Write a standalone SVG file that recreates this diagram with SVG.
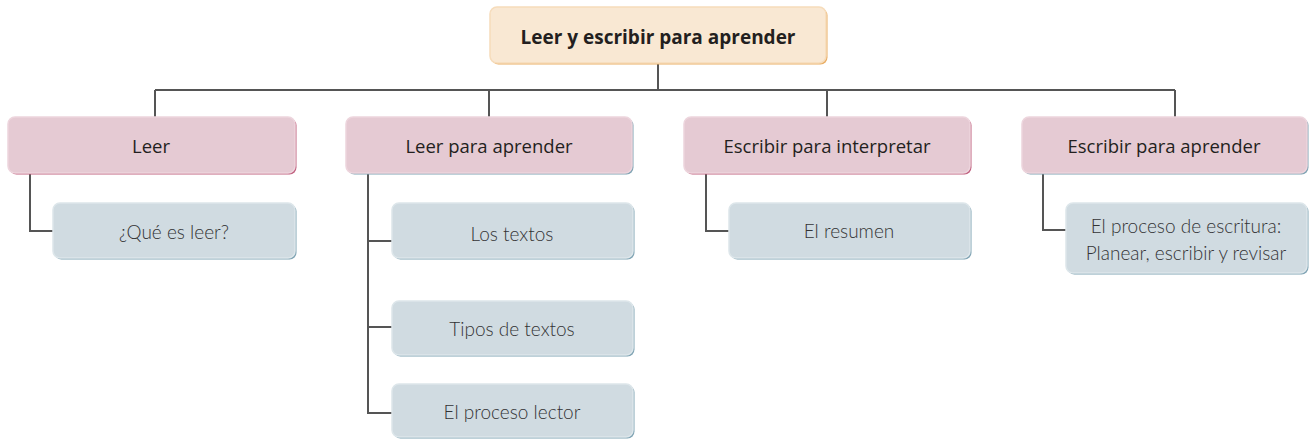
<svg xmlns="http://www.w3.org/2000/svg" width="1309" height="441" viewBox="0 0 1309 441">
<style>
.t{font-family:"Open Sans","Liberation Sans",sans-serif;text-anchor:middle;fill:#231f20}
.title{font-size:19px;font-weight:700}
.cat{font-size:18.5px;font-weight:400}
.sub{font-family:"Lato","Open Sans",sans-serif;font-size:19px;font-weight:300;fill:#333335}
.conn{stroke:#555;stroke-width:2;fill:none}
</style>
<rect width="1309" height="441" fill="#fff"/>
<g id="connectors">
<path class="conn" d="M658 63V90M155 90H1175M155 90V117M489 90V117M827 90V117M1175 90V117"/>
<path class="conn" d="M30 173V231H53"/>
<path class="conn" d="M368 173V413H392M368 241H392M368 327H392"/>
<path class="conn" d="M706 173V231H729"/>
<path class="conn" d="M1043 173V230H1066"/>
</g>
<g id="root">
<rect x="491.5" y="8.5" width="336" height="56" rx="7" fill="#e9ad63"/>
<rect x="490" y="7" width="336" height="56" rx="7" fill="#f9e8d3" stroke="#f6dcbb" stroke-width="1.5"/>
<text class="t title" x="658" y="44">Leer y escribir para aprender</text>
</g>
<g id="leer">
<rect x="9.5" y="118.5" width="287" height="56" rx="7" fill="#c0607f"/>
<rect x="8" y="117" width="287" height="56" rx="7" fill="#e5cad3" stroke="#edd5dd" stroke-width="1.5"/>
<text class="t cat" x="151" y="153">Leer</text>
</g>
<g id="leer-para-aprender">
<rect x="347.5" y="118.5" width="286" height="56" rx="7" fill="#7fa3b3"/>
<rect x="346" y="117" width="286" height="56" rx="7" fill="#e5cad3" stroke="#edd5dd" stroke-width="1.5"/>
<text class="t cat" x="489" y="153">Leer para aprender</text>
</g>
<g id="escribir-para-interpretar">
<rect x="685.5" y="118.5" width="286" height="56" rx="7" fill="#c0607f"/>
<rect x="684" y="117" width="286" height="56" rx="7" fill="#e5cad3" stroke="#edd5dd" stroke-width="1.5"/>
<text class="t cat" x="827" y="153">Escribir para interpretar</text>
</g>
<g id="escribir-para-aprender">
<rect x="1023.5" y="118.5" width="285" height="56" rx="7" fill="#7fa3b3"/>
<rect x="1022" y="117" width="285" height="56" rx="7" fill="#e5cad3" stroke="#edd5dd" stroke-width="1.5"/>
<text class="t cat" x="1164" y="153">Escribir para aprender</text>
</g>
<g id="que-es-leer">
<rect x="54.5" y="204.5" width="242" height="55" rx="7" fill="#7fa3b3"/>
<rect x="53" y="203" width="242" height="55" rx="7" fill="#d0dbe1" stroke="#dde6ea" stroke-width="1.5"/>
<text class="t sub" x="174" y="239">¿Qué es leer?</text>
</g>
<g id="los-textos">
<rect x="393.5" y="204.5" width="241" height="55" rx="7" fill="#7fa3b3"/>
<rect x="392" y="203" width="241" height="55" rx="7" fill="#d0dbe1" stroke="#dde6ea" stroke-width="1.5"/>
<text class="t sub" x="512" y="241">Los textos</text>
</g>
<g id="tipos-de-textos">
<rect x="393.5" y="302.5" width="241" height="54" rx="7" fill="#7fa3b3"/>
<rect x="392" y="301" width="241" height="54" rx="7" fill="#d0dbe1" stroke="#dde6ea" stroke-width="1.5"/>
<text class="t sub" x="512" y="336">Tipos de textos</text>
</g>
<g id="el-proceso-lector">
<rect x="393.5" y="385.5" width="241" height="53" rx="7" fill="#7fa3b3"/>
<rect x="392" y="384" width="241" height="53" rx="7" fill="#d0dbe1" stroke="#dde6ea" stroke-width="1.5"/>
<text class="t sub" x="512" y="419">El proceso lector</text>
</g>
<g id="el-resumen">
<rect x="730.5" y="204.5" width="241" height="55" rx="7" fill="#7fa3b3"/>
<rect x="729" y="203" width="241" height="55" rx="7" fill="#d0dbe1" stroke="#dde6ea" stroke-width="1.5"/>
<text class="t sub" x="849" y="238">El resumen</text>
</g>
<g id="el-proceso-de-escritura">
<rect x="1067.5" y="204.5" width="241" height="70" rx="7" fill="#7fa3b3"/>
<rect x="1066" y="203" width="241" height="70" rx="7" fill="#d0dbe1" stroke="#dde6ea" stroke-width="1.5"/>
<text class="t sub" x="1186" y="233">El proceso de escritura:</text>
<text class="t sub" x="1186" y="260">Planear, escribir y revisar</text>
</g>
</svg>
